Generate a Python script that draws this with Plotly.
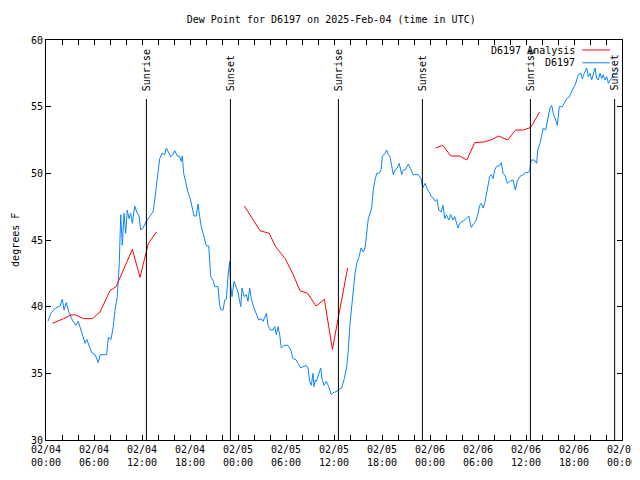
import pandas as pd
import plotly.graph_objects as go

BASE = pd.Timestamp("2025-02-04 00:00")

# Observed dew point (hours since 2025-02-04 00:00 UTC, degrees F)
obs_hours = [0.25, 0.59, 1.21, 1.75, 2.04, 2.25, 2.54, 2.88, 3.29, 3.71, 4.04, 4.34, 4.88, 5.09, 5.71, 6.13,
             6.54, 6.75, 7.59, 7.79, 8.13, 8.41, 8.63, 8.91, 9.16, 9.34, 9.54, 9.75, 9.96, 10.16, 10.38, 10.59,
             10.79, 11.09, 11.34, 11.63, 11.84, 12.13, 12.54, 12.96, 13.38, 13.59, 13.79, 14.0, 14.21, 14.5,
             14.84, 15.04, 15.25, 15.59, 15.88, 16.09, 16.41, 16.71, 16.91, 17.04, 17.21, 17.46, 17.75, 18.04,
             18.25, 18.5, 18.79, 19.0, 19.21, 19.41, 19.75, 20.04, 20.34, 20.46, 20.59, 20.88, 21.09, 21.5,
             21.71, 21.91, 22.13, 22.34, 22.54, 22.75, 22.96, 23.09, 23.25, 23.5, 23.79, 24.0, 24.21, 24.34,
             24.5, 24.75, 25.04, 25.25, 25.46, 25.66, 26.0, 26.29, 26.59, 26.91, 27.13, 27.54, 27.75, 28.04,
             28.38, 28.59, 28.79, 29.0, 29.21, 29.41, 29.75, 30.25, 30.59, 30.88, 31.29, 31.5, 31.84, 32.13,
             32.54, 32.75, 32.96, 33.16, 33.38, 33.5, 33.66, 33.79, 34.09, 34.34, 34.5, 34.75, 35.04, 35.34,
             35.66, 36.0, 36.29, 36.46, 36.96, 37.29, 37.59, 37.79, 38.0, 38.21, 38.41, 38.63, 38.84, 39.13,
             39.38, 39.66, 39.88, 40.09, 40.29, 40.71, 40.91, 41.13, 41.34, 41.63, 41.88, 42.04, 42.38, 42.59,
             42.79, 43.0, 43.21, 43.41, 43.63, 43.91, 44.16, 44.46, 44.66, 44.96, 45.29, 45.63, 45.91, 46.54,
             46.88, 47.09, 47.38, 47.71, 48.0, 48.16, 48.5, 48.66, 48.88, 49.09, 49.41, 49.63, 49.84, 50.04,
             50.34, 50.59, 50.88, 51.09, 51.29, 51.5, 51.71, 52.13, 52.54, 52.84, 52.96, 53.16, 53.5, 53.79,
             54.0, 54.21, 54.41, 54.63, 54.84, 55.04, 55.25, 55.46, 55.66, 55.88, 56.09, 56.29, 56.71, 56.91,
             57.13, 57.41, 57.66, 57.96, 58.38, 58.66, 58.91, 59.21, 59.63, 59.91, 60.25, 60.5, 60.63, 61.04,
             61.34, 61.46, 61.75, 61.96, 62.16, 62.46, 62.71, 63.0, 63.21, 63.41, 63.71, 63.91, 64.04, 64.16,
             64.54, 64.79, 65.09, 65.38, 65.63, 65.91, 66.13, 66.34, 66.54, 66.88, 67.04, 67.29, 67.59, 67.79,
             68.0, 68.21, 68.41, 68.63, 68.84, 69.04, 69.25, 69.46, 69.66, 69.88, 70.09, 70.29, 70.5, 70.71,
             70.91, 71.21, 71.54]
obs_values = [38.9, 39.5, 39.9, 40.05, 40.55, 39.75, 40.3, 39.55, 39.0, 38.6, 38.9, 38.25, 37.25, 37.55, 36.55, 36.4,
              35.8, 36.4, 36.4, 37.7, 37.55, 38.5, 39.75, 40.75, 43.25, 46.9, 44.6, 47.0, 45.5, 47.25, 46.6, 47.0,
              46.25, 47.55, 47.1, 46.8, 45.75, 45.9, 46.4, 46.75, 47.1, 48.0, 49.1, 50.25, 51.1, 51.5,
              51.4, 51.9, 51.6, 51.25, 51.4, 51.7, 51.3, 51.25, 50.9, 51.3, 50.0, 49.25, 48.6, 48.1,
              47.4, 46.8, 46.8, 47.7, 46.75, 46.0, 45.25, 44.55, 44.55, 42.9, 42.25, 42.0, 41.5, 41.5,
              40.1, 39.75, 39.75, 40.5, 40.55, 42.25, 43.4, 41.6, 40.75, 41.9, 41.5, 41.1, 40.4, 40.0,
              41.4, 40.75, 40.9, 40.4, 41.4, 40.6, 39.9, 39.5, 39.0, 39.1, 38.9, 39.5, 38.6, 38.25,
              38.25, 38.5, 37.9, 38.5, 37.9, 36.9, 37.1, 37.1, 36.75, 36.1, 36.0, 35.75, 35.4, 35.5,
              35.6, 35.4, 34.4, 34.1, 35.0, 34.0, 34.5, 34.4, 34.9, 35.4, 34.6, 34.1, 34.4, 34.0,
              33.4, 33.6, 33.6, 33.75, 33.9, 34.6, 35.5, 36.75, 38.75, 40.0, 41.5, 42.5, 43.25, 43.75,
              44.4, 44.1, 44.4, 45.75, 46.6, 47.4, 48.75, 49.5, 50.0, 50.0, 50.25, 51.25, 51.5, 51.75,
              51.4, 51.25, 50.5, 49.9, 50.25, 50.4, 50.75, 49.9, 50.25, 50.3, 50.7, 50.25, 49.9, 49.9,
              49.6, 48.9, 49.25, 48.75, 48.5, 48.25, 48.1, 47.9, 48.05, 47.25, 47.1, 47.6, 46.6, 46.9,
              46.5, 46.9, 46.5, 46.75, 46.3, 45.9, 46.25, 46.4, 46.6, 46.8, 46.5, 45.95, 46.25, 46.5,
              47.0, 47.6, 47.75, 47.4, 47.75, 48.4, 49.0, 49.75, 49.9, 49.6, 50.25, 50.5, 50.6, 50.8,
              50.0, 49.8, 49.25, 49.4, 49.5, 48.75, 49.4, 49.75, 49.9, 50.05, 50.05, 50.25, 51.0, 51.0,
              50.75, 51.75, 52.25, 52.9, 53.4, 53.25, 54.0, 54.9, 55.1, 54.5, 54.0, 53.6, 54.25, 55.0,
              55.0, 55.25, 55.6, 55.7, 56.1, 56.4, 56.6, 57.1, 57.4, 57.5, 57.1, 57.5, 57.9, 57.25,
              57.5, 57.0, 57.5, 57.9, 57.1, 57.0, 57.5, 57.1, 57.4, 57.0, 57.25, 56.75, 57.0, 57.1,
              57.5, 57.4, 57.75]

# Analysis series (None marks gaps between segments)
ana_hours = [0.79, 1.5, 2.2, 3.0, 3.6, 4.7, 5.8, 6.75, 7.4, 8.0, 8.75, 9.5, 10.3, 10.8, 11.75, 12.6, 12.8, 13.8,
             18.0,
             24.8, 25.7, 26.75, 27.9, 28.7, 29.9, 30.9, 31.75, 32.7, 33.75, 34.8, 35.8, 36.5, 37.7,
             43.0,
             48.7, 49.6, 50.6, 51.7, 52.6, 53.6, 54.7, 55.6, 56.6, 57.7, 58.7, 59.7, 60.6, 61.7]
ana_values = [38.75, 38.9, 39.1, 39.35, 39.4, 39.1, 39.1, 39.6, 40.5, 41.2, 41.5, 42.5, 43.6, 44.3, 42.2, 44.1, 44.75, 45.6,
              None,
              47.55, 46.7, 45.7, 45.5, 44.5, 43.6, 42.4, 41.2, 41.0, 40.05, 40.55, 36.8, 39.0, 42.9,
              None,
              51.9, 52.1, 51.3, 51.3, 51.0, 52.3, 52.35, 52.5, 52.8, 52.5, 53.25, 53.25, 53.45, 54.6]

sun_hours = [12.55, 23.05, 36.55, 47.05, 60.55, 71.08]
sun_labels = ["Sunrise", "Sunset", "Sunrise", "Sunset", "Sunrise", "Sunset"]

tick_hours = [0, 6, 12, 18, 24, 30, 36, 42, 48, 54, 60, 66, 72]
y_ticks = [30, 35, 40, 45, 50, 55, 60]

FONT = "DejaVu Sans Mono"
RED = "#ff0000"
BLUE = "#0a84ff"

def to_time(h):
    return BASE + pd.to_timedelta(h, unit="h")

fig = go.Figure()
fig.add_trace(go.Scatter(x=[to_time(h) for h in obs_hours], y=obs_values, mode="lines",
                         line=dict(color=BLUE, width=1), name="D6197", showlegend=False))
fig.add_trace(go.Scatter(x=[to_time(h) for h in ana_hours], y=ana_values, mode="lines",
                         line=dict(color=RED, width=1), name="D6197 Analysis",
                         connectgaps=False, showlegend=False))

for h, lab in zip(sun_hours, sun_labels):
    t = to_time(h)
    fig.add_shape(type="line", xref="x", yref="paper", x0=t, x1=t, y0=0, y1=0.8525,
                  line=dict(color="black", width=1))
    fig.add_annotation(x=t, xref="x", y=0.868, yref="paper", text=lab, textangle=-90,
                       showarrow=False, yanchor="bottom", xanchor="center",
                       font=dict(family=FONT, size=10, color="black"))

# gnuplot-style legend (text right, sample line after it)
leg = [("D6197 Analysis", RED, 0.975), ("D6197", BLUE, 0.943)]
for name, col, yy in leg:
    fig.add_annotation(x=0.922, xref="paper", y=yy, yref="paper", text=name, showarrow=False,
                       xanchor="right", yanchor="middle", font=dict(family=FONT, size=10, color="black"))
    fig.add_shape(type="line", xref="paper", yref="paper", x0=0.931, x1=0.979, y0=yy, y1=yy,
                  line=dict(color=col, width=1))

# y-axis title as rotated text
fig.add_annotation(x=-0.054, xref="paper", y=0.5, yref="paper", text="degrees F", textangle=-90,
                   showarrow=False, xanchor="center", yanchor="middle",
                   font=dict(family=FONT, size=10, color="black"))

tickvals = [to_time(h) for h in tick_hours]
ticktext = [t.strftime("%m/%d") + "<br>" + t.strftime("%H:%M") for t in tickvals]

# page body adds an 8px offset; margins compensate so the plot box sits at 46..622 x 40..440
fig.update_layout(
    width=640, height=480,
    margin=dict(l=38, r=26, t=32, b=48, autoexpand=False),
    paper_bgcolor="white", plot_bgcolor="white",
    font=dict(family=FONT, size=10, color="black"),
    title=dict(text="Dew Point for D6197 on 2025-Feb-04 (time in UTC)", x=0.505, xanchor="center",
               y=0.977, yanchor="middle", font=dict(family=FONT, size=10, color="black")),
    showlegend=False,
)
fig.update_xaxes(range=[to_time(0), to_time(72)], tickvals=tickvals, ticktext=ticktext,
                 ticks="inside", ticklen=5, tickcolor="black", showline=True, linecolor="black",
                 linewidth=1, mirror="allticks", showgrid=False, zeroline=False, automargin=False,
                 minor=dict(dtick=2 * 3600 * 1000, tick0=to_time(0), ticks="inside", ticklen=5,
                            tickcolor="black", showgrid=False),
                 tickfont=dict(family=FONT, size=10, color="black"))
fig.update_yaxes(range=[30, 60], tickvals=y_ticks, ticks="inside", ticklen=5, tickcolor="black",
                 showline=True, linecolor="black", linewidth=1, mirror="allticks", showgrid=False,
                 zeroline=False, automargin=False,
                 tickfont=dict(family=FONT, size=10, color="black"))

fig.write_html("out.html")
